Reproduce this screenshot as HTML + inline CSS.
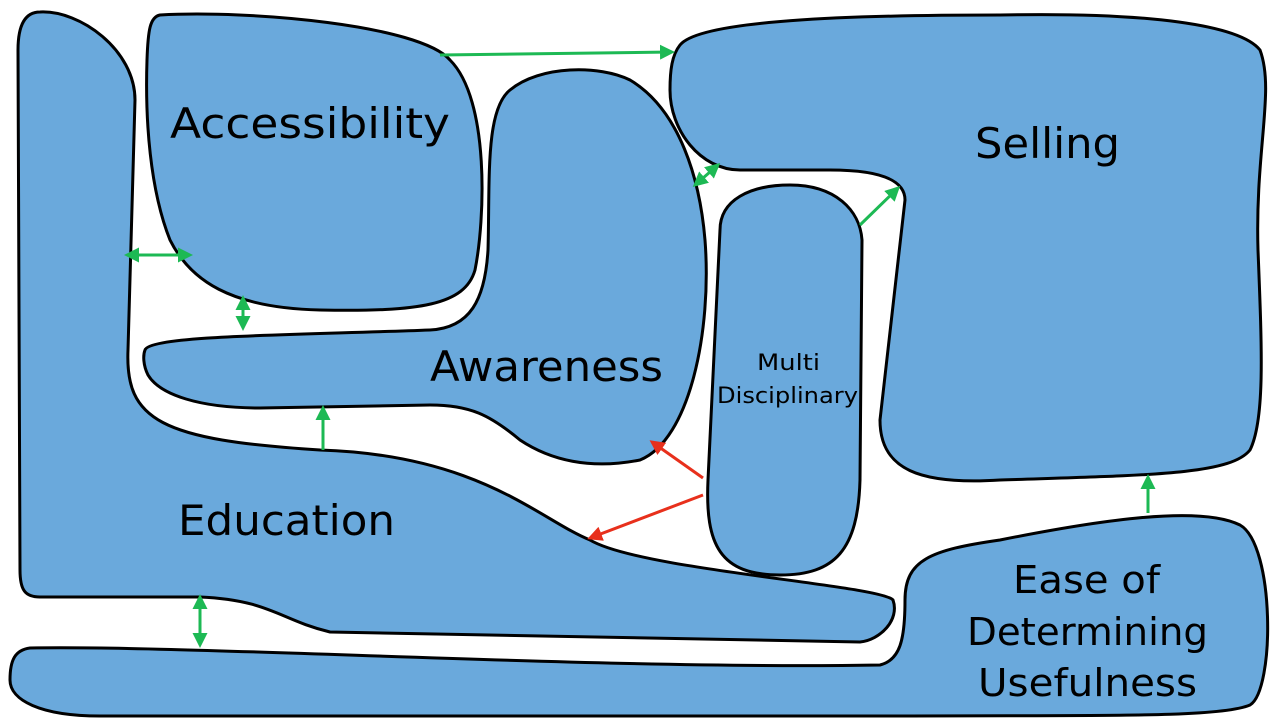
<!DOCTYPE html>
<html><head><meta charset="utf-8"><style>
html,body{margin:0;padding:0;background:#fff;}
svg{display:block;}
text{font-family:"DejaVu Sans","Liberation Sans",sans-serif;fill:#000;}
</style></head><body>
<svg width="1280" height="720" viewBox="0 0 1280 720" xmlns="http://www.w3.org/2000/svg">
<defs>
<marker id="g" viewBox="0 0 10 10" refX="8" refY="5" markerWidth="5" markerHeight="5" orient="auto-start-reverse"><path d="M0,0 L10,5 L0,10 z" fill="#1db954"/></marker>
<marker id="r" viewBox="0 0 10 10" refX="8" refY="5" markerWidth="5" markerHeight="5" orient="auto"><path d="M0,0 L10,5 L0,10 z" fill="#e8301c"/></marker>
</defs>
<g fill="#6aa9dc" stroke="#000" stroke-width="3">
<path d="M40,12 C80,10 135,50 135,100 L128,350 C125,420 160,440 320,450 C480,455 540,520 590,540 C640,570 880,585 893,600 C900,620 880,640 860,642 L330,632 C280,620 270,600 200,597 L40,597 C25,597 20,590 20,570 L18,50 C18,25 25,12 40,12 Z"/>
<path d="M30,648 C200,645 600,670 880,665 C900,660 905,640 905,600 C905,560 930,550 1000,540 C1100,520 1200,505 1240,525 C1275,545 1275,690 1250,705 C1220,718 1100,715 900,716 L100,716 C40,716 10,700 10,680 C10,660 15,650 30,648 Z"/>
<path d="M160,15 C250,10 420,25 450,60 C490,100 485,220 475,270 C465,305 420,312 320,310 C230,308 190,280 170,240 C150,190 145,120 147,60 C148,30 150,17 160,15 Z"/>
<path d="M145,350 C150,335 300,335 430,330 C470,328 485,300 488,250 C490,180 485,110 510,90 C540,65 600,65 630,80 C680,110 700,180 705,240 C712,330 690,440 640,460 C590,470 550,460 520,440 C490,415 470,405 430,405 L260,408 C200,408 160,395 148,375 C143,365 143,355 145,350 Z"/>
<path d="M720,230 C720,200 750,185 790,185 C835,185 860,210 862,240 L860,480 C858,550 835,575 780,575 C720,575 705,545 708,480 Z"/>
<path d="M680,45 C700,20 850,15 1000,15 C1150,12 1240,25 1260,50 C1275,90 1255,150 1258,250 C1262,350 1265,420 1250,450 C1230,475 1150,475 1000,480 C920,485 880,470 880,420 L905,200 C905,180 880,170 830,170 L740,170 C700,170 670,130 670,90 C670,70 672,55 680,45 Z"/>
</g>
<g stroke="#1db954" stroke-width="3" fill="none">
<line x1="440" y1="55" x2="672" y2="52" marker-end="url(#g)"/>
<line x1="127" y1="255" x2="190" y2="255" marker-start="url(#g)" marker-end="url(#g)"/>
<line x1="243" y1="298" x2="243" y2="328" marker-start="url(#g)" marker-end="url(#g)"/>
<line x1="323" y1="450" x2="323" y2="408" marker-end="url(#g)"/>
<line x1="695" y1="185" x2="718" y2="165" marker-start="url(#g)" marker-end="url(#g)"/>
<line x1="860" y1="225" x2="898" y2="188" marker-end="url(#g)"/>
<line x1="200" y1="597" x2="200" y2="645" marker-start="url(#g)" marker-end="url(#g)"/>
<line x1="1148" y1="513" x2="1148" y2="477" marker-end="url(#g)"/>
</g>
<g stroke="#e8301c" stroke-width="3" fill="none">
<line x1="703" y1="478" x2="652" y2="442" marker-end="url(#r)"/>
<line x1="703" y1="495" x2="590" y2="538" marker-end="url(#r)"/>
</g>
<text x="170" y="138" font-size="42" textLength="280" lengthAdjust="spacingAndGlyphs">Accessibility</text>
<text x="975" y="158" font-size="42" textLength="145" lengthAdjust="spacingAndGlyphs">Selling</text>
<text x="430" y="381" font-size="42" textLength="233" lengthAdjust="spacingAndGlyphs">Awareness</text>
<text x="178" y="535" font-size="42" textLength="217" lengthAdjust="spacingAndGlyphs">Education</text>
<text x="757" y="370" font-size="22" textLength="63" lengthAdjust="spacingAndGlyphs">Multi</text>
<text x="717" y="403" font-size="22" textLength="141" lengthAdjust="spacingAndGlyphs">Disciplinary</text>
<text x="1013" y="593" font-size="38" textLength="147" lengthAdjust="spacingAndGlyphs">Ease of</text>
<text x="967" y="645" font-size="38" textLength="241" lengthAdjust="spacingAndGlyphs">Determining</text>
<text x="978" y="696" font-size="38" textLength="219" lengthAdjust="spacingAndGlyphs">Usefulness</text>
</svg>
</body></html>
